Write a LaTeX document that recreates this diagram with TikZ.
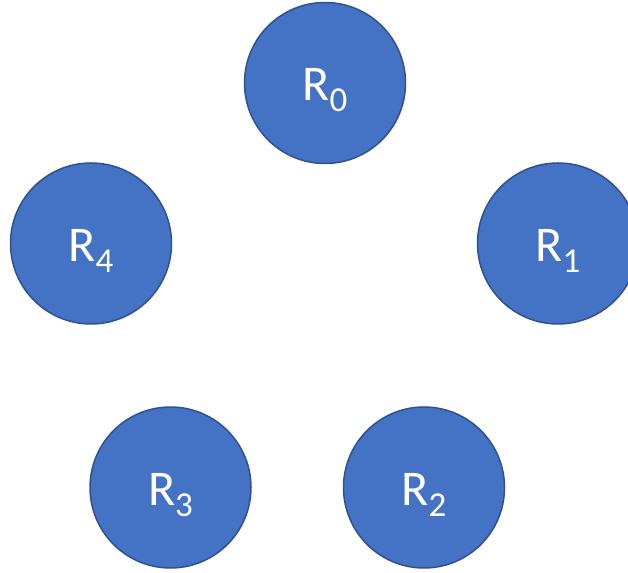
\documentclass[tikz,border=0pt]{standalone}
\usepackage{fontspec}
\setmainfont{Carlito}
\usetikzlibrary{positioning}
\definecolor{ringblue}{HTML}{4472C4}
\definecolor{ringedge}{HTML}{2F528F}
\newcommand{\rlabel}[1]{R\raisebox{-11pt}{\fontsize{35}{35}\selectfont #1}}

\begin{document}
\begin{tikzpicture}[x=1pt, y=1pt,
    ring/.style={circle, draw=ringedge, fill=ringblue, line width=1.5pt, minimum size=161pt, inner sep=0pt, text=white, text height=44pt, text depth=8pt, font=\fontsize{50}{60}\selectfont}]
  \useasboundingbox (0,0) rectangle (628,572);
  \node[ring] (R0) at (325,489) {\rlabel{0}};
  \node[ring] (R1) at (558,328.5) {\rlabel{1}};
  \node[ring] (R2) at (424,84.5) {\rlabel{2}};
  \node[ring] (R3) at (170.5,84.5) {\rlabel{3}};
  \node[ring] (R4) at (91,328.5) {\rlabel{4}};
\end{tikzpicture}
\end{document}
